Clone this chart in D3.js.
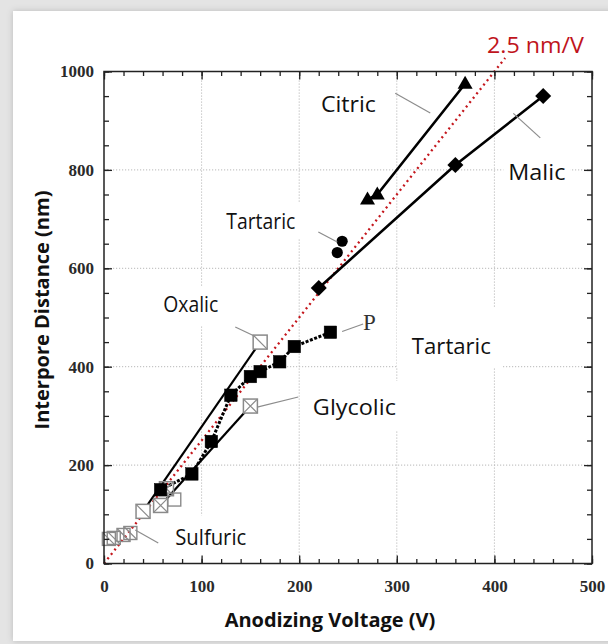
<!DOCTYPE html>
<html><head><meta charset="utf-8">
<script src="https://cdn.jsdelivr.net/npm/d3@7"></script>
<style>html,body{margin:0;padding:0;background:#e2e2e2;}svg{display:block;}</style>
</head><body>
<svg id="chart" width="608" height="644"></svg>
<script>
// ---- data (Anodizing Voltage V, Interpore Distance nm) ----
const xTicks = [0, 100, 200, 300, 400, 500];
const yTicks = [0, 200, 400, 600, 800, 1000];
const xGrid = [100, 200, 300, 400];
const yGrid = [200, 400, 600, 800];
const malic = [[220, 560], [360, 810], [450, 950]];
const citric = [[270, 740], [280, 750], [370, 975]];
const tartaricCircles = [[239, 632], [244, 655]];
const tartaricP = [[58, 150], [90, 182], [110, 248], [130, 342], [150, 380], [160, 390], [180, 410], [195, 441], [232, 470]];
const oxalic = [[40, 106], [160, 450]];
const glycolic = [[58, 118], [150, 320]];
const crossedExtra = [[64, 152]];
const openExtra = [[72, 130]];
const sulfuric = [[5, 50], [10, 52], [20, 58], [27, 62]];
const refLine = [[0, 0], [411, 1027.5]];
const labelTexts = ["Citric", "Malic", "Tartaric", "Oxalic", "Tartaric", "Glycolic", "Sulfuric"];
const labelAnchors = [[222.3, 917.7], [414.3, 778.5], [125.3, 680], [60.7, 511], [315.4, 425.8], [214, 301.8], [73, 36.6]];
const pointers = [
  [[298.4, 956], [334.3, 915.5]],
  [[419.4, 915], [447, 865]],
  [[219.6, 673.8], [239, 653.5]],
  [[134.5, 480.7], [154, 462.4]],
  [[244, 471.5], [265.5, 486.8]],
  [[157, 318], [199, 338.4]],
  [[32, 68], [55.6, 41.7]]
];

// ---- layout ----
const svg = d3.select("#chart");
const x = d3.scaleLinear().domain([0, 500]).range([104, 592]);
const y = d3.scaleLinear().domain([0, 1000]).range([563.5, 71.5]);

// card background with shadow
const defs = svg.append("defs");
const f = defs.append("filter").attr("id", "sh").attr("x", "-5%").attr("y", "-5%").attr("width", "110%").attr("height", "110%");
f.append("feGaussianBlur").attr("in", "SourceAlpha").attr("stdDeviation", 3);
f.append("feOffset").attr("dx", 0).attr("dy", 0).attr("result", "b");
f.append("feFlood").attr("flood-color", "#000").attr("flood-opacity", 0.18);
f.append("feComposite").attr("in2", "b").attr("operator", "in");
const m = f.append("feMerge"); m.append("feMergeNode"); m.append("feMergeNode").attr("in", "SourceGraphic");
svg.append("rect").attr("x", 0).attr("y", 0).attr("width", 608).attr("height", 644).attr("fill", "#e4e4e4");
svg.append("rect").attr("x", 13).attr("y", 11).attr("width", 620).attr("height", 630).attr("fill", "#fff").attr("filter", "url(#sh)");

// gridlines
const grid = svg.append("g").attr("stroke", "#b8b8b8").attr("stroke-width", 1).attr("stroke-dasharray", "1.2,1.8");
grid.selectAll(".gx").data(xGrid).join("line").attr("x1", d => x(d)).attr("x2", d => x(d)).attr("y1", y(1000)).attr("y2", y(0));
grid.selectAll(".gy").data(yGrid).join("line").attr("y1", d => y(d)).attr("y2", d => y(d)).attr("x1", x(0)).attr("x2", x(500));

// label boxes + labels
const pads = [[5,4,5,4],[5,4,5,4],[5,4,5,4],[5,4,5,8],[15,24,11,8],[8,12,10,9],[5,8,5,6]];
const fitW = [55, 57, 69, 55, 79, 83, 71];
const boxG = svg.append("g");
const labG = svg.append("g").attr("font-family", "'Open Sans', sans-serif").attr("font-size", 21).attr("fill", "#111");
labelTexts.forEach((t, i) => {
  const tx = labG.append("text").attr("x", x(labelAnchors[i][0])).attr("y", y(labelAnchors[i][1]))
    .attr("textLength", fitW[i]).attr("lengthAdjust", "spacingAndGlyphs").text(t);
  const b = tx.node().getBBox();
  const p = pads[i];
  boxG.append("rect").attr("x", b.x - p[0]).attr("y", b.y - p[1]).attr("width", b.width + p[0] + p[2]).attr("height", b.height + p[1] + p[3]).attr("fill", "#fff");
});

// reference 2.5 nm/V line
const line = d3.line().x(d => x(d[0])).y(d => y(d[1]));
svg.append("path").attr("d", line(refLine)).attr("fill", "none").attr("stroke", "#c4161c").attr("stroke-width", 2.3).attr("stroke-dasharray", "2,3.6");
svg.append("text").attr("x", 487).attr("y", 53).attr("font-family", "'Open Sans', sans-serif").attr("font-size", 22)
  .attr("fill", "#c0141c").attr("textLength", 97).attr("lengthAdjust", "spacingAndGlyphs").text("2.5 nm/V");

// series lines
const lines = svg.append("g").attr("fill", "none").attr("stroke", "#000");
lines.append("path").attr("d", line(malic)).attr("stroke-width", 2.6);
lines.append("path").attr("d", line(citric)).attr("stroke-width", 2.6);
lines.append("path").attr("d", line(oxalic)).attr("stroke-width", 2.2);
lines.append("path").attr("d", line(glycolic)).attr("stroke-width", 2.2);
lines.append("path").attr("d", line(tartaricP)).attr("stroke-width", 3).attr("stroke-dasharray", "3,1.6");

// markers
const mk = svg.append("g");
const sq = (g, data, s, fill, stroke, sw) => g.selectAll(null).data(data).join("rect")
  .attr("x", d => x(d[0]) - s / 2).attr("y", d => y(d[1]) - s / 2).attr("width", s).attr("height", s)
  .attr("fill", fill).attr("stroke", stroke).attr("stroke-width", sw);
sq(mk, sulfuric, 13, "none", "#8a8a8a", 1.4);
sq(mk, openExtra, 13, "none", "#8a8a8a", 1.4);
sq(mk, oxalic, 14, "#fff", "#8a8a8a", 1.5);
sq(mk, glycolic, 14, "#fff", "#8a8a8a", 1.5);
sq(mk, crossedExtra, 14, "none", "#8a8a8a", 1.5);
const diag = (data, s, both) => {
  mk.selectAll(null).data(data).join("path").attr("fill", "none").attr("stroke", "#8a8a8a").attr("stroke-width", 1.2)
    .attr("d", d => {
      const cx = x(d[0]), cy = y(d[1]), h = s / 2;
      let p = `M${cx - h},${cy - h}L${cx + h},${cy + h}`;
      if (both) p += `M${cx + h},${cy - h}L${cx - h},${cy + h}`;
      return p;
    });
};
diag(oxalic, 14, false);
diag(glycolic, 14, true);
diag(crossedExtra, 14, true);
diag(sulfuric, 13, false);
sq(mk, tartaricP, 12.5, "#000", "#000", 0.5);
mk.selectAll(null).data(tartaricCircles).join("circle").attr("cx", d => x(d[0])).attr("cy", d => y(d[1])).attr("r", 5.6).attr("fill", "#000");
mk.selectAll(null).data(malic).join("path").attr("fill", "#000")
  .attr("d", d => { const cx = x(d[0]), cy = y(d[1]); return `M${cx},${cy - 8}L${cx + 8},${cy}L${cx},${cy + 8}L${cx - 8},${cy}Z`; });
mk.selectAll(null).data(citric).join("path").attr("fill", "#000")
  .attr("d", d => { const cx = x(d[0]), cy = y(d[1]); return `M${cx},${cy - 8}L${cx + 7.5},${cy + 5}L${cx - 7.5},${cy + 5}Z`; });

// pointer lines
svg.append("g").attr("stroke", "#8c8c8c").attr("stroke-width", 1.2).selectAll("path").data(pointers).join("path").attr("d", d => line(d));

// "P" label
svg.append("text").attr("x", 363).attr("y", 330).attr("font-family", "'Liberation Serif', serif").attr("font-size", 23).attr("fill", "#333").text("P");

// axes: ticks inward
const tickFont = g => g.selectAll("text").attr("font-family", "'Liberation Serif', serif").attr("font-weight", "bold").attr("font-size", 17).attr("fill", "#2a2a2a");
const clean = g => { g.select(".domain").remove(); g.selectAll("line").attr("stroke", "#222").attr("stroke-width", 1.3); };
const xMinor = d3.range(0, 501, 20), yMinor = d3.range(0, 1001, 50);
svg.append("g").attr("transform", `translate(0,${y(0)})`).call(d3.axisBottom(x).tickValues(xMinor).tickSize(-4.5).tickFormat("")).call(clean);
svg.append("g").attr("transform", `translate(0,${y(1000)})`).call(d3.axisTop(x).tickValues(xMinor).tickSize(-4.5).tickFormat("")).call(clean);
svg.append("g").attr("transform", `translate(${x(0)},0)`).call(d3.axisLeft(y).tickValues(yMinor).tickSize(-5).tickFormat("")).call(clean);
svg.append("g").attr("transform", `translate(${x(500)},0)`).call(d3.axisRight(y).tickValues(yMinor).tickSize(-5).tickFormat("")).call(clean);
svg.append("g").attr("transform", `translate(0,${y(0)})`).call(d3.axisBottom(x).tickValues(xTicks).tickSize(-8).tickPadding(16.5).tickFormat(d3.format("d"))).call(clean).call(tickFont);
svg.append("g").attr("transform", `translate(0,${y(1000)})`).call(d3.axisTop(x).tickValues(xTicks).tickSize(-8).tickFormat("")).call(clean);
svg.append("g").attr("transform", `translate(${x(0)},0)`).call(d3.axisLeft(y).tickValues(yTicks).tickSize(-8).tickPadding(10).tickFormat(d3.format("d"))).call(clean).call(tickFont);
svg.append("g").attr("transform", `translate(${x(500)},0)`).call(d3.axisRight(y).tickValues(yTicks).tickSize(-8).tickFormat("")).call(clean);

// frame
svg.append("rect").attr("x", x(0)).attr("y", y(1000)).attr("width", x(500) - x(0)).attr("height", y(0) - y(1000))
  .attr("fill", "none").attr("stroke", "#222").attr("stroke-width", 1.5);

// axis titles
svg.append("text").attr("x", 330).attr("y", 626.5).attr("text-anchor", "middle").attr("font-family", "'Open Sans', sans-serif")
  .attr("font-weight", "bold").attr("font-size", 20).attr("fill", "#111").text("Anodizing Voltage (V)");
svg.append("text").attr("transform", "translate(49,310) rotate(-90)").attr("text-anchor", "middle").attr("font-family", "'Open Sans', sans-serif")
  .attr("font-weight", "bold").attr("font-size", 20).attr("fill", "#111").text("Interpore Distance (nm)");
</script>
</body></html>
